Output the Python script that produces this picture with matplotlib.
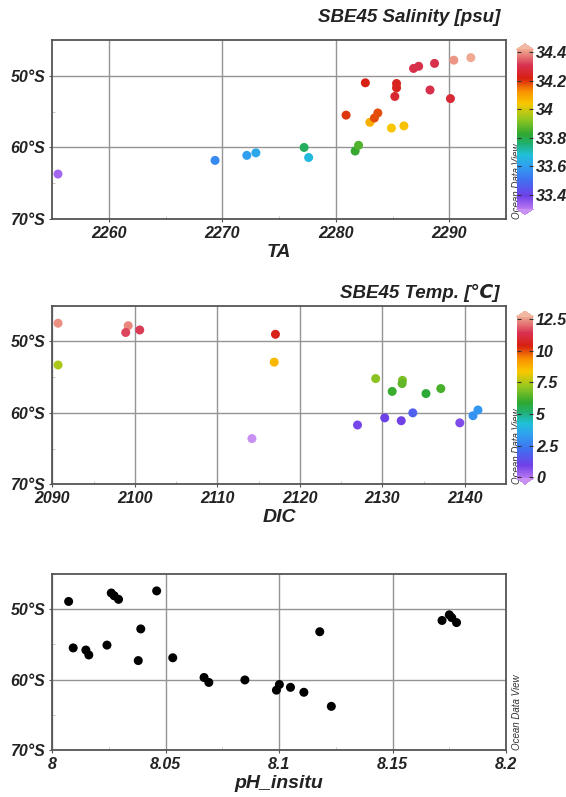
import numpy as np
import matplotlib
matplotlib.use('Agg')
import matplotlib.pyplot as plt
from matplotlib.colors import LinearSegmentedColormap, Normalize
from matplotlib.ticker import MultipleLocator, FuncFormatter

plt.rcParams['font.family'] = ['Liberation Sans', 'DejaVu Sans']
plt.rcParams['font.weight'] = 'bold'
plt.rcParams['font.style'] = 'italic'
plt.rcParams['axes.labelweight'] = 'bold'

# panel 1: TA vs latitude, coloured by salinity
ta = [2255.5, 2269.35, 2272.15, 2272.95, 2277.2, 2277.6, 2281.7, 2282.0,
      2280.9, 2282.6, 2283.0, 2283.4, 2283.7, 2284.9, 2286.0, 2285.35,
      2285.35, 2285.2, 2286.85, 2287.3, 2288.3, 2288.7, 2290.1, 2290.4, 2291.9]
ta_lat = [-63.7, -61.8, -61.1, -60.75, -60.0, -61.4, -60.5, -59.7,
          -55.5, -51.0, -56.5, -55.9, -55.2, -57.3, -57.0, -51.1,
          -51.7, -52.9, -49.0, -48.7, -52.0, -48.3, -53.2, -47.85, -47.5]
salinity = [33.33, 33.56, 33.6, 33.62, 33.78, 33.66, 33.83, 33.86,
            34.2, 34.22, 34.08, 34.18, 34.18, 34.04, 34.05, 34.24,
            34.24, 34.26, 34.3, 34.3, 34.3, 34.3, 34.27, 34.4, 34.42]

# panel 2: DIC vs latitude, coloured by temperature
dic = [2090.7, 2099.2, 2098.9, 2100.6, 2090.7, 2117.05, 2116.9, 2114.2,
       2127.0, 2130.3, 2132.3, 2133.7, 2129.2, 2131.2, 2132.45, 2132.4,
       2135.3, 2137.1, 2139.4, 2141.0, 2141.6]
dic_lat = [-47.45, -47.8, -48.75, -48.4, -53.3, -49.0, -52.9, -63.6,
           -61.7, -60.7, -61.1, -60.0, -55.2, -57.0, -55.45, -55.9,
           -57.3, -56.6, -61.4, -60.4, -59.6]
temp = [12.4, 12.3, 11.6, 11.5, 7.4, 10.5, 8.6, -0.3,
        0.8, 1.0, 0.9, 1.8, 7.0, 6.0, 6.8, 6.5,
        5.8, 6.2, 0.7, 3.0, 3.1]

# panel 3: pH vs latitude
ph = [8.0072, 8.0092, 8.0148, 8.0161, 8.0241, 8.026, 8.0273, 8.0292,
      8.039, 8.0379, 8.046, 8.0531, 8.0669, 8.069, 8.0849, 8.0988,
      8.1001, 8.105, 8.1109, 8.1179, 8.123, 8.1718, 8.175, 8.1761, 8.1782]
ph_lat = [-48.9, -55.5, -55.8, -56.5, -55.1, -47.7, -48.1, -48.6,
          -52.8, -57.3, -47.4, -56.9, -59.7, -60.4, -60.05, -61.5,
          -60.7, -61.1, -61.8, -53.2, -63.8, -51.6, -50.8, -51.2, -51.9]

odv = LinearSegmentedColormap.from_list('odv', [
    (0.00, '#b878f0'), (0.08, '#7040e8'), (0.18, '#4070f0'),
    (0.27, '#30a0f0'), (0.34, '#20c0d8'), (0.41, '#20b070'),
    (0.47, '#30a830'), (0.57, '#98c820'), (0.66, '#f8c800'),
    (0.74, '#f89000'), (0.82, '#d82010'), (0.90, '#d83050'),
    (1.00, '#f0a890')])
odv.set_over('#f2b8a4')
odv.set_under('#c890f0')

W, H = 566, 797


def box(l, t, r, b):
    return [l / W, (H - b) / H, (r - l) / W, (b - t) / H]


lat_fmt = FuncFormatter(lambda v, p: '%d°S' % abs(round(v)))
num_fmt = FuncFormatter(lambda v, p: '%g' % round(v, 4))


def style(ax, xlim, xstep, xlabel):
    ax.set_xlim(*xlim)
    ax.set_ylim(-70, -45)
    ax.xaxis.set_major_locator(MultipleLocator(xstep))
    ax.xaxis.set_minor_locator(MultipleLocator(xstep / 2))
    ax.yaxis.set_major_locator(MultipleLocator(10))
    ax.yaxis.set_minor_locator(MultipleLocator(5))
    ax.yaxis.set_major_formatter(lat_fmt)
    ax.xaxis.set_major_formatter(num_fmt)
    ax.grid(True, which='major', color='#949494', lw=1.0)
    ax.set_axisbelow(True)
    for s in ax.spines.values():
        s.set_color('#555555')
        s.set_linewidth(1.3)
    ax.tick_params(which='major', direction='out', length=2.5, color='#555555',
                   labelsize=11.5, labelcolor='#222222', pad=2.5)
    ax.tick_params(which='minor', direction='in', length=2.5, color='#bbbbbb')
    ax.set_xlabel(xlabel, fontsize=14, fontweight='bold', color='#222222', labelpad=2)
    ax.text(1.025, 0.0, 'Ocean Data View', transform=ax.transAxes, rotation=90,
            fontsize=7, fontweight='normal', color='#333333',
            ha='center', va='bottom', clip_on=False)


def colorbar(fig, sc, rect, ticks):
    cax = fig.add_axes(rect)
    cb = fig.colorbar(sc, cax=cax, extend='both', extendfrac=0.035, ticks=ticks)
    cb.outline.set_visible(False)
    cb.ax.yaxis.set_major_formatter(num_fmt)
    cb.ax.tick_params(direction='in', length=3, color='#333333', left=True, right=True,
                      labelsize=11.5, labelcolor='#222222', pad=2)
    return cb


fig = plt.figure(figsize=(W / 100, H / 100), dpi=100)

ax1 = fig.add_axes(box(52.3, 39.7, 506, 219.3))
sc1 = ax1.scatter(ta, ta_lat, c=salinity, cmap=odv,
                  norm=Normalize(33.3, 34.42), s=42, edgecolors='none', zorder=3)
style(ax1, (2255, 2295), 10, 'TA')
colorbar(fig, sc1, box(516.7, 43.9, 533.3, 214.6), [33.4, 33.6, 33.8, 34.0, 34.2, 34.4])
fig.text(500 / W, 1 - 18 / H, 'SBE45 Salinity [psu]', ha='right', va='center',
         fontsize=13.5, color='#222222')

ax2 = fig.add_axes(box(52.3, 305.7, 506, 484.3))
sc2 = ax2.scatter(dic, dic_lat, c=temp, cmap=odv,
                  norm=Normalize(-0.1, 12.7), s=42, edgecolors='none', zorder=3)
style(ax2, (2090, 2145), 10, 'DIC')
colorbar(fig, sc2, box(516.7, 311.0, 533.3, 484.1), [0, 2.5, 5, 7.5, 10, 12.5])
fig.text(500 / W, 1 - 293 / H, 'SBE45 Temp. [℃]', ha='right', va='center',
         fontsize=13.5, color='#222222')

ax3 = fig.add_axes(box(52.3, 574, 506, 750))
ax3.scatter(ph, ph_lat, c='black', s=42, edgecolors='none', zorder=3)
style(ax3, (8.0, 8.2), 0.05, 'pH_insitu')

fig.savefig('out.png', dpi=100)
